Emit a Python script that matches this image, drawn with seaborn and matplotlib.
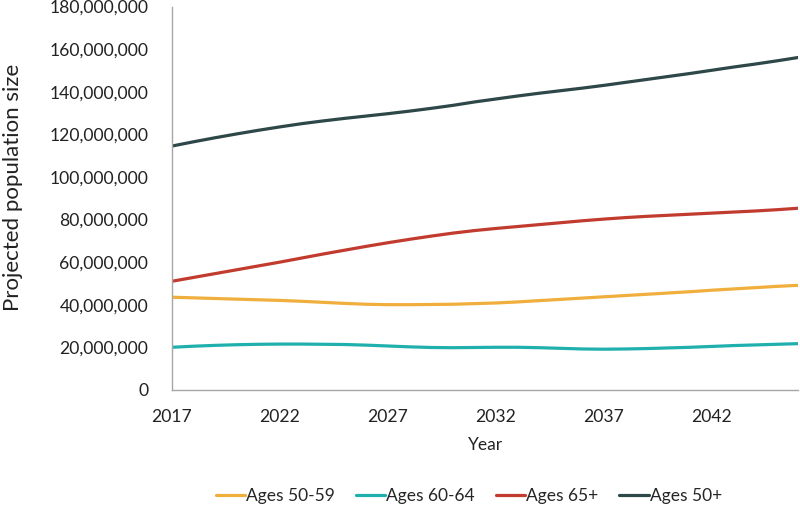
import matplotlib
matplotlib.use("Agg")
import matplotlib.pyplot as plt
import matplotlib.ticker as mtick
import seaborn as sns
import pandas as pd

years = list(range(2017, 2047))

# values in millions
ages_50_59 = [43.5, 43.2, 42.9, 42.6, 42.3, 42.0, 41.6, 41.1, 40.6, 40.2,
              40.0, 40.0, 40.1, 40.2, 40.5, 40.8, 41.3, 41.9, 42.5, 43.1,
              43.7, 44.3, 44.9, 45.5, 46.1, 46.8, 47.4, 48.0, 48.6, 49.1]
ages_60_64 = [20.0, 20.5, 20.9, 21.2, 21.4, 21.5, 21.5, 21.4, 21.3, 21.0,
              20.6, 20.2, 19.9, 19.8, 19.9, 20.0, 20.0, 19.8, 19.5, 19.2,
              19.1, 19.2, 19.4, 19.7, 20.0, 20.4, 20.8, 21.1, 21.4, 21.7]
ages_65_plus = [51.0, 52.8, 54.6, 56.4, 58.2, 60.0, 61.9, 63.8, 65.6, 67.4,
                69.1, 70.7, 72.2, 73.6, 74.8, 75.8, 76.7, 77.6, 78.5, 79.4,
                80.2, 80.9, 81.5, 82.0, 82.5, 83.0, 83.5, 84.0, 84.6, 85.3]
ages_50_plus = [114.5, 116.5, 118.4, 120.2, 121.9, 123.5, 125.0, 126.3, 127.5, 128.6,
                129.7, 130.9, 132.2, 133.6, 135.2, 136.6, 138.0, 139.3, 140.5, 141.7,
                143.0, 144.4, 145.8, 147.2, 148.6, 150.1, 151.6, 153.0, 154.5, 156.1]

series_names = ["Ages 50-59", "Ages 60-64", "Ages 65+", "Ages 50+"]
colors = ["#F0AE3C", "#1FB0AE", "#C23B2F", "#2E4748"]

df = pd.DataFrame({"Year": years,
                   "Ages 50-59": ages_50_59,
                   "Ages 60-64": ages_60_64,
                   "Ages 65+": ages_65_plus,
                   "Ages 50+": ages_50_plus})
long = df.melt(id_vars="Year", var_name="group", value_name="pop")
long["pop"] = long["pop"] * 1e6  # millions -> people

sns.set_style("white")
plt.rcParams["font.family"] = ["Lato", "DejaVu Sans"]

fig = plt.figure(figsize=(8, 5.05), dpi=100)
ax = fig.add_axes([0.215, 0.228, 0.783, 0.759])

sns.lineplot(data=long, x="Year", y="pop", hue="group", hue_order=series_names,
             palette=colors, linewidth=2.3, ax=ax, legend=False)

ax.set_xlim(2017, 2046)
ax.set_ylim(0, 180e6)
ax.set_xticks([2017, 2022, 2027, 2032, 2037, 2042])
ax.set_yticks(range(0, 180000001, 20000000))
ax.yaxis.set_major_formatter(mtick.FuncFormatter(lambda v, _: f"{int(v):,}"))

for s in ["top", "right"]:
    ax.spines[s].set_visible(False)
for s in ["left", "bottom"]:
    ax.spines[s].set_color("#A6A6A6")
    ax.spines[s].set_linewidth(1.0)
ax.tick_params(axis="both", which="major", direction="out", length=3.6,
               color="#A6A6A6", labelsize=12.6, labelcolor="#222222")
ax.tick_params(axis="x", pad=10)
ax.tick_params(axis="y", pad=13.5)

ax.set_xlabel("Year", fontsize=12.5, color="#222222", labelpad=9)
ax.set_ylabel("Projected population size", fontsize=16, color="#222222")
ax.yaxis.set_label_coords(-0.238, 0.529)

handles = [plt.Line2D([], [], color=c, lw=2.3) for c in colors]
fig.legend(handles, series_names, loc="center", bbox_to_anchor=(0.586, 0.018),
           ncol=4, frameon=False, fontsize=12.5, handlelength=1.7, handletextpad=0.05,
           columnspacing=1.2)

fig.savefig("out.png", dpi=100)
